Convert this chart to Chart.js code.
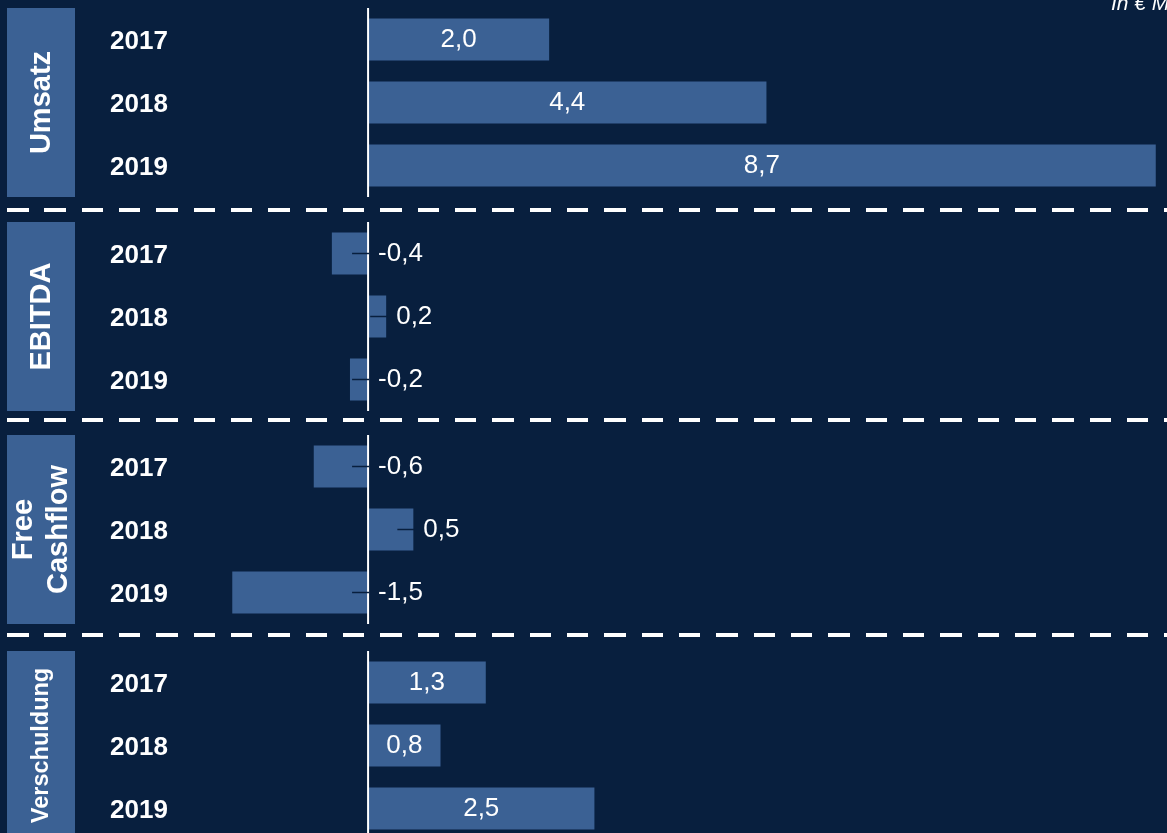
<!DOCTYPE html>
<html>
<head>
<meta charset="utf-8">
<script src="https://cdn.jsdelivr.net/npm/chart.js@4.4.1/dist/chart.umd.min.js"></script>
<style>
  body { margin: 0; background: #081f3e; }
  #page { position: relative; width: 1167px; height: 833px; overflow: hidden; background: #081f3e; font-family: "Liberation Sans", Arial, sans-serif; }
  .group { position: absolute; left: 0; width: 1167px; height: 210px; }
  .dash { position: absolute; left: 7px; width: 1160px; height: 4px;
          background: repeating-linear-gradient(to right, #fff 0, #fff 21.5px, transparent 21.5px, transparent 37.33px); }
  #unit { position: absolute; left: 1111px; top: -9px; font-style: italic; font-size: 21px; color: #fff; white-space: nowrap; }
</style>
</head>
<body>
<div id="page">
  <div class="group" style="top:-2px"><canvas id="c0" width="1167" height="210"></canvas></div>
  <div class="group" style="top:212px"><canvas id="c1" width="1167" height="210"></canvas></div>
  <div class="group" style="top:425px"><canvas id="c2" width="1167" height="210"></canvas></div>
  <div class="group" style="top:641px"><canvas id="c3" width="1167" height="210"></canvas></div>
  <div class="dash" style="top:208px"></div>
  <div class="dash" style="top:418px"></div>
  <div class="dash" style="top:633px"></div>
  <div id="unit">In € Mio.</div>
</div>
<script>
const years = ['2017', '2018', '2019'];
const umsatz = [2.0, 4.4, 8.7];
const ebitda = [-0.4, 0.2, -0.2];
const freeCashflow = [-0.6, 0.5, -1.5];
const verschuldung = [1.3, 0.8, 2.5];

const barColor = '#3b6194';
const bgColor = '#081f3e';
const font = '"Liberation Sans", Arial, sans-serif';

const groups = [
    { name: ['Umsatz'], values: umsatz, inside: true, size: 29 },
    { name: ['EBITDA'], values: ebitda, inside: false, size: 29 },
    { name: ['Free', 'Cashflow'], values: freeCashflow, inside: false, size: 29 },
    { name: ['Verschuldung'], values: verschuldung, inside: true, size: 23.5 }
];

function fmt(v) {
    return v.toFixed(1).replace('.', ',');
}

// draws the side box, year labels, zero line and the value labels
const drawGroup = {
    id: 'drawGroup',
    afterDatasetsDraw(chart, args, opts) {
        const ctx = chart.ctx, area = chart.chartArea;
        const xs = chart.scales.x, ys = chart.scales.y;
        ctx.save();

        ctx.fillStyle = barColor;
        ctx.fillRect(7, area.top, 68, area.bottom - area.top);

        ctx.save();
        ctx.fillStyle = '#fff';
        ctx.font = 'bold ' + opts.size + 'px ' + font;
        ctx.textAlign = 'center';
        ctx.textBaseline = 'middle';
        ctx.translate(41.5, (area.top + area.bottom) / 2);
        ctx.rotate(-Math.PI / 2);
        opts.name.forEach((t, i) => {
            ctx.fillText(t, 0, (i - (opts.name.length - 1) / 2) * 35);
        });
        ctx.restore();

        ctx.fillStyle = '#fff';
        ctx.font = 'bold 26px ' + font;
        ctx.textAlign = 'left';
        ctx.textBaseline = 'middle';
        chart.data.labels.forEach((lab, i) => {
            ctx.fillText(lab, 110, ys.getPixelForValue(i) + 2);
        });

        const zero = xs.getPixelForValue(0);
        ctx.strokeStyle = '#fff';
        ctx.lineWidth = 2;
        ctx.beginPath();
        ctx.moveTo(zero, area.top);
        ctx.lineTo(zero, area.bottom);
        ctx.stroke();

        const data = chart.data.datasets[0].data;
        ctx.font = '26px ' + font;
        chart.getDatasetMeta(0).data.forEach((bar, i) => {
            const txt = fmt(data[i]);
            if (opts.inside) {
                ctx.textAlign = 'center';
                ctx.fillStyle = '#fff';
                ctx.fillText(txt, (bar.x + bar.base) / 2, bar.y);
            } else {
                const end = Math.max(bar.x, bar.base) + 1;
                ctx.strokeStyle = bgColor;
                ctx.lineWidth = 1.5;
                ctx.beginPath();
                ctx.moveTo(end - 17, bar.y);
                ctx.lineTo(end, bar.y);
                ctx.stroke();
                ctx.textAlign = 'left';
                ctx.fillStyle = '#fff';
                ctx.fillText(txt, end + 9, bar.y);
            }
        });
        ctx.restore();
    }
};

groups.forEach((g, k) => {
    new Chart(document.getElementById('c' + k), {
        type: 'bar',
        data: {
            labels: years,
            datasets: [{
                data: g.values,
                backgroundColor: barColor,
                barPercentage: 0.667,
                categoryPercentage: 1
            }]
        },
        options: {
            indexAxis: 'y',
            responsive: false,
            animation: false,
            layout: { padding: { left: 187, right: 4, top: 10, bottom: 11 } },
            scales: {
                x: { display: false, min: -2, max: 8.78 },
                y: { display: false }
            },
            plugins: {
                legend: { display: false },
                tooltip: { enabled: false },
                drawGroup: { name: g.name, inside: g.inside, size: g.size }
            }
        },
        plugins: [drawGroup]
    });
});
</script>
</body>
</html>
